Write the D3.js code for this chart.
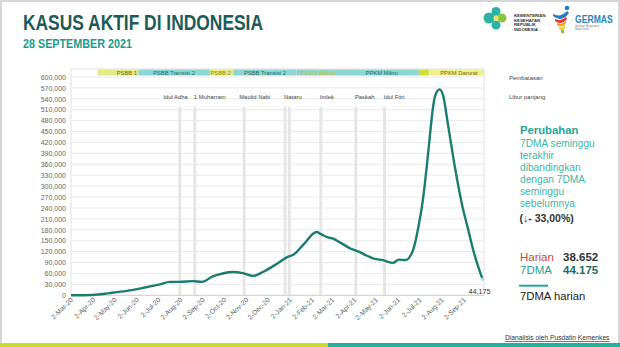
<!DOCTYPE html>
<html><head><meta charset="utf-8">
<script src="https://cdn.jsdelivr.net/npm/d3@7"></script>
<style>
html,body{margin:0;padding:0;background:#fff;}
svg{display:block;font-family:"Liberation Sans",Arial,sans-serif;}
</style></head>
<body>
<svg id="c" width="620" height="347"></svg>
<script>
// ---- data ----
const dates = ["2020-03-02","2020-04-01","2020-04-25","2020-05-19","2020-06-10","2020-07-04","2020-07-18","2020-08-01","2020-08-19","2020-09-01","2020-09-16","2020-09-30","2020-10-14","2020-10-28","2020-11-11","2020-11-25","2020-12-15","2020-12-29","2021-01-07","2021-01-21","2021-02-08","2021-02-14","2021-02-24","2021-03-03","2021-03-14","2021-03-28","2021-04-07","2021-04-18","2021-04-29","2021-05-13","2021-05-26","2021-06-03","2021-06-13","2021-06-19","2021-06-23","2021-06-27","2021-07-01","2021-07-05","2021-07-09","2021-07-13","2021-07-17","2021-07-20","2021-07-24","2021-07-30","2021-08-04","2021-08-11","2021-08-21","2021-08-31","2021-09-07","2021-09-15","2021-09-22","2021-09-28"];
const activeCases7DMA = [0,1000,6000,12000,20000,30000,37000,37000,39000,37000,52000,60000,64000,61000,53000,64000,87000,105000,112000,140000,174000,168000,159000,156000,144000,128000,121000,110000,101000,96000,89000,98000,97000,108000,125000,155000,195000,240000,300000,372000,450000,505000,550000,566000,548000,465000,345000,243000,188000,124000,78000,44175];

const xDomain = ["2020-03-02","2021-09-30"];
const yTicks = d3.range(0, 600001, 30000);
const xTickDates = ["2020-03-02","2020-04-02","2020-05-02","2020-06-02","2020-07-02","2020-08-02","2020-09-02","2020-10-02","2020-11-02","2020-12-02","2021-01-02","2021-02-02","2021-03-02","2021-04-02","2021-05-02","2021-06-02","2021-07-02","2021-08-02","2021-09-02"];

const bandStart = ["2020-04-08","2020-06-04","2020-09-12","2020-10-15","2021-01-11","2021-02-09","2021-07-01","2021-07-15"];
const bandEnd   = ["2020-06-04","2020-09-12","2020-10-15","2021-01-11","2021-02-09","2021-07-01","2021-07-15","2021-09-30"];
const bandKind  = ["yellow","cyan","yellow","cyan","cyan","cyan","lime","pale"];
const bandLabel = ["PSBB 1","PSBB Transisi 2","PSBB 2","PSBB Transisi 2","PPKM Kab/Kot","PPKM Mikro","","PPKM Darurat"];
const bandLabelAt = ["2020-05-19","2020-07-24","2020-09-27","2020-11-28","2021-02-08","2021-05-10","","2021-08-26"];

const liburLineDates = ["2020-08-01","2020-08-22","2020-10-30","2020-12-26","2021-01-01","2021-02-14","2021-04-04","2021-05-14"];
const liburNames = ["Idul Adha","1 Muharram","Maulid Nabi","Nataru","Imlek","Paskah","Idul Fitri"];
const liburNameDates = ["2020-08-01","2020-08-22","2020-10-30","2020-12-26","2021-02-14","2021-04-04","2021-05-14"];

const lastValueLabel = "44,175";
const harian = "38.652";
const dma = "44.175";
const change = "(\u2193- 33,00%)";

// ---- drawing ----
const parse = d3.timeParse("%Y-%m-%d");
const svg = d3.select("#c");
const x = d3.scaleTime().domain(xDomain.map(parse)).range([71, 484]);
const y = d3.scaleLinear().domain([0, 600000]).range([295.3, 77]);

// outer frame
svg.append("rect").attr("x",1).attr("y",1).attr("width",618).attr("height",345)
  .attr("fill","#fff").attr("stroke","#d6d6d6").attr("stroke-width",2);

// title
svg.append("text").attr("x",23).attr("y",30).attr("font-size",22).attr("font-weight","bold")
  .attr("fill","#1e5a57").attr("textLength",240).attr("lengthAdjust","spacingAndGlyphs")
  .text("KASUS AKTIF DI INDONESIA");
svg.append("text").attr("x",23).attr("y",48).attr("font-size",12.5).attr("font-weight","bold")
  .attr("fill","#1a9c8c").attr("textLength",109).attr("lengthAdjust","spacingAndGlyphs")
  .text("28 SEPTEMBER 2021");

// logos
const lg = svg.append("g");
lg.append("circle").attr("cx",489).attr("cy",18).attr("r",5.5).attr("fill","#2bb3a3");
lg.append("circle").attr("cx",496).attr("cy",11.5).attr("r",4.5).attr("fill","#2bb3a3");
lg.append("circle").attr("cx",496).attr("cy",25).attr("r",4.5).attr("fill","#2bb3a3");
lg.append("circle").attr("cx",502).attr("cy",18).attr("r",4.5).attr("fill","#8cc63f");
lg.append("path").attr("d","M496,15 L499,18 L496,21 L493,18Z").attr("fill","#f2e34a");
["KEMENTERIAN","KESEHATAN","REPUBLIK","INDONESIA"].forEach((t,i)=>{
  lg.append("text").attr("x",514).attr("y",17+i*4.6).attr("font-size",4.3).attr("font-weight","bold")
    .attr("fill","#333").text(t);
});
lg.append("circle").attr("cx",567).attr("cy",8).attr("r",2.3).attr("fill","#2a7cc0");
lg.append("path").attr("d","M553,14 Q560,18 567,11 L569,13 Q562,23 553,16Z").attr("fill","#2a7cc0");
lg.append("path").attr("d","M555,19 Q561,22 566,17 L567,19 Q561,26 555,21Z").attr("fill","#e8362d");
lg.append("path").attr("d","M557,23 Q562,25 566,21 L566,23 Q562,29 557,25Z").attr("fill","#f39c1f");
lg.append("path").attr("d","M559,27 Q563,28 565,25 L565,28 Q563,33 559,29Z").attr("fill","#f6d22a");
lg.append("path").attr("d","M561,30 Q563,31 564,29 L564,33 Q562,34 561,32Z").attr("fill","#7cbf3f");
lg.append("text").attr("transform","translate(575,23) scale(0.98,1.25)").attr("font-size",8.8).attr("font-weight","bold")
  .attr("fill","#2a86b8").text("GERMAS");
lg.append("text").attr("x",575).attr("y",27).attr("font-size",2.6).attr("fill","#777").text("Gerakan Masyarakat");
lg.append("text").attr("x",575).attr("y",30).attr("font-size",2.6).attr("fill","#777").text("Hidup Sehat");

// plot frame
const plot = svg.append("g");
plot.append("rect").attr("x",71).attr("y",69).attr("width",413).attr("height",226.3)
  .attr("fill","none").attr("stroke","#e2e2e2").attr("stroke-width",1);

// gridlines
plot.selectAll("line.grid").data(yTicks).join("line").attr("class","grid")
  .attr("x1",71).attr("x2",484).attr("y1",d=>y(d)).attr("y2",d=>y(d))
  .attr("stroke",d=>d===0?"#d4d4d4":"#e9e9e9").attr("stroke-width",1);

// y axis
const yAxis = d3.axisLeft(y).tickValues(yTicks).tickFormat(d3.format(",")).tickSize(0).tickPadding(0);
const ya = svg.append("g").attr("transform","translate(66,0)").call(yAxis);
ya.select(".domain").remove();
ya.selectAll("text").attr("font-size",7).attr("fill","#666").attr("font-family","'Liberation Sans',Arial,sans-serif");

// x axis
const xAxis = d3.axisBottom(x).tickValues(xTickDates.map(parse)).tickFormat(d3.timeFormat("%-d-%b-%y")).tickSize(0);
const xa = svg.append("g").attr("transform","translate(0,295.3)").call(xAxis);
xa.select(".domain").remove();
xa.selectAll("text").attr("font-size",6.8).attr("fill","#666").attr("font-family","'Liberation Sans',Arial,sans-serif")
  .attr("dy",null).attr("y",0).attr("x",0).attr("text-anchor","end")
  .attr("transform","translate(2,5) rotate(-45)");

// restriction bands
const bandFill = {yellow:"#e4eb86", cyan:"#8fd6d3", lime:"#d2df3a", pale:"#eef28e"};
const bandText = {yellow:"#6a6c12", cyan:"#1f6b6a", lime:"#6a6c12", pale:"#6a6c12"};
const bands = bandStart.map((s,i)=>({s:parse(s), e:parse(bandEnd[i]), k:bandKind[i], l:bandLabel[i], at:bandLabelAt[i]?parse(bandLabelAt[i]):null}));
plot.selectAll("rect.band").data(bands).join("rect").attr("class","band")
  .attr("x",d=>x(d.s)).attr("width",d=>x(d.e)-x(d.s)).attr("y",69.5).attr("height",6)
  .attr("fill",d=>bandFill[d.k]);
plot.selectAll("text.band").data(bands.filter(d=>d.l)).join("text").attr("class","band")
  .attr("x",d=>x(d.at)).attr("y",74.6).attr("text-anchor","middle").attr("font-size",5.8)
  .attr("fill",(d)=>d.l==="PPKM Kab/Kot"?"#c9c222":(d.l==="PSBB 2"?"#8f9010":bandText[d.k]))
  .text(d=>d.l);

// holiday lines
plot.selectAll("line.libur").data(liburLineDates.map(parse)).join("line").attr("class","libur")
  .attr("x1",d=>x(d)).attr("x2",d=>x(d)).attr("y1",106.5).attr("y2",295)
  .attr("stroke","#e6e6e6").attr("stroke-width",3);
const labAnchor = n => n==="Idul Adha" ? "end" : "start";
const labDx = n => n==="Idul Adha" ? 8 : (n==="Maulid Nabi" ? -5 : -1);
plot.selectAll("text.libur").data(liburNames).join("text").attr("class","libur")
  .attr("x",(d,i)=>x(parse(liburNameDates[i]))+labDx(d)).attr("y",98.5)
  .attr("text-anchor",d=>labAnchor(d)).attr("font-size",5.9).attr("fill","#444").text(d=>d);

// series line
const pts = dates.map((d,i)=>({d:parse(d), v:activeCases7DMA[i]}));
const line = d3.line().x(p=>x(p.d)).y(p=>y(p.v)).curve(d3.curveMonotoneX);
plot.append("path").datum(pts).attr("d",line).attr("fill","none")
  .attr("stroke","#1b7d6f").attr("stroke-width",2.4).attr("stroke-linejoin","round");
const last = pts[pts.length-1];
plot.append("circle").attr("cx",x(last.d)).attr("cy",y(last.v)).attr("r",1.8).attr("fill","#a9dcd4");
plot.append("text").attr("x",x(last.d)-3).attr("y",293.5).attr("text-anchor","middle")
  .attr("font-size",7.2).attr("fill","#333").text(lastValueLabel);

// right legend labels
svg.append("text").attr("x",509).attr("y",80).attr("font-size",6).attr("fill","#444").text("Pembatasan");
svg.append("text").attr("x",509).attr("y",98.5).attr("font-size",6).attr("fill","#444").text("Libur panjang");

// right panel
svg.append("text").attr("x",520).attr("y",134).attr("font-size",11.3).attr("font-weight","bold")
  .attr("fill","#27a597").text("Perubahan");
["7DMA seminggu","terakhir","dibandingkan","dengan 7DMA","seminggu","sebelumnya"].forEach((t,i)=>{
  svg.append("text").attr("x",520).attr("y",147+i*12).attr("font-size",10.2).attr("fill","#3db5a5").text(t);
});
svg.append("text").attr("x",519.5).attr("y",222).attr("font-size",10.5).attr("font-weight","bold")
  .attr("fill","#333").text(change);
svg.append("text").attr("x",520).attr("y",260.5).attr("font-size",11.5).attr("fill","#c24a4a").text("Harian");
svg.append("text").attr("x",563).attr("y",260.5).attr("font-size",11.5).attr("font-weight","bold").attr("fill","#333").text(harian);
svg.append("text").attr("x",520).attr("y",274).attr("font-size",11.5).attr("fill","#2a9d8f").text("7DMA");
svg.append("text").attr("x",563).attr("y",274).attr("font-size",11.5).attr("font-weight","bold").attr("fill","#1e6b63").text(dma);
svg.append("line").attr("x1",519).attr("x2",548).attr("y1",285.7).attr("y2",285.7).attr("stroke","#2aa597").attr("stroke-width",2);
svg.append("text").attr("x",520).attr("y",300).attr("font-size",11.3).attr("fill","#222").text("7DMA harian");

svg.append("text").attr("x",505).attr("y",340).attr("font-size",6.7).attr("fill","#333")
  .attr("text-decoration","underline").text("Dianalisis oleh Pusdatin Kemenkes");

// bottom bar
svg.append("rect").attr("x",0).attr("y",343).attr("width",328).attr("height",4).attr("fill","#c9da2c");
svg.append("rect").attr("x",328).attr("y",343).attr("width",292).attr("height",4).attr("fill","#1fb39e");
</script>
</body></html>
